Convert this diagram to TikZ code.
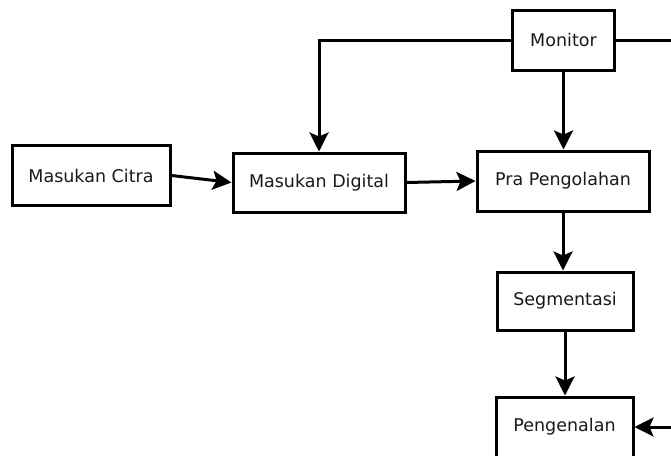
\documentclass[tikz,border=0pt]{standalone}
\usepackage{fontspec}
\setmainfont{DejaVu Sans}
\usetikzlibrary{arrows.meta}
\begin{document}
\begin{tikzpicture}[x=1pt,y=-1pt,
  kotak/.style={draw,line width=3pt,inner sep=0pt,minimum height=59pt,
    font=\fontsize{17.5}{20}\selectfont,text=black!90},
  panah/.style={line width=3pt,-{Stealth[length=19pt,width=19pt,inset=4pt]}},
  garis/.style={line width=3pt}]
\clip (0,0) rectangle (671,455);
\node[kotak,minimum width=102pt,minimum height=60pt] (monitor) at (563.5,40) {Monitor};
\node[kotak,minimum width=158pt,minimum height=60pt] (citra) at (91,175.5) {Masukan Citra};
\node[kotak,minimum width=172pt] (digital) at (319,182.5) {Masukan Digital};
\node[kotak,minimum width=172pt,minimum height=60pt] (pra) at (563,181) {Pra Pengolahan};
\node[kotak,minimum width=136pt,minimum height=58pt] (segmen) at (565,301) {Segmentasi};
\node[kotak,minimum width=137pt,minimum height=60pt] (kenal) at (564.5,427) {Pengenalan};
%%%%%%%%%%%%%%%%
\coordinate (kanan1) at (675,40);
\coordinate (kanan2) at (675,427);
%%%%%%%%%%%%%%%%
\draw[panah] (monitor.west) -| (digital.north);
\draw[garis] (monitor.east) -- (kanan1);
\draw[panah] (monitor.south) -- (monitor.south |- pra.north);
%%%%%%%%%%%%%%%%
\draw[panah] (citra.east) -- (digital.west);
\draw[panah] (digital.east) -- (pra.west);
\draw[panah] (pra.south) -- (segmen.north -| pra.south);
\draw[panah] (segmen.south) -- (kenal.north -| segmen.south);
\draw[panah] (kanan2) -- (kenal.east);
\end{tikzpicture}
\end{document}
